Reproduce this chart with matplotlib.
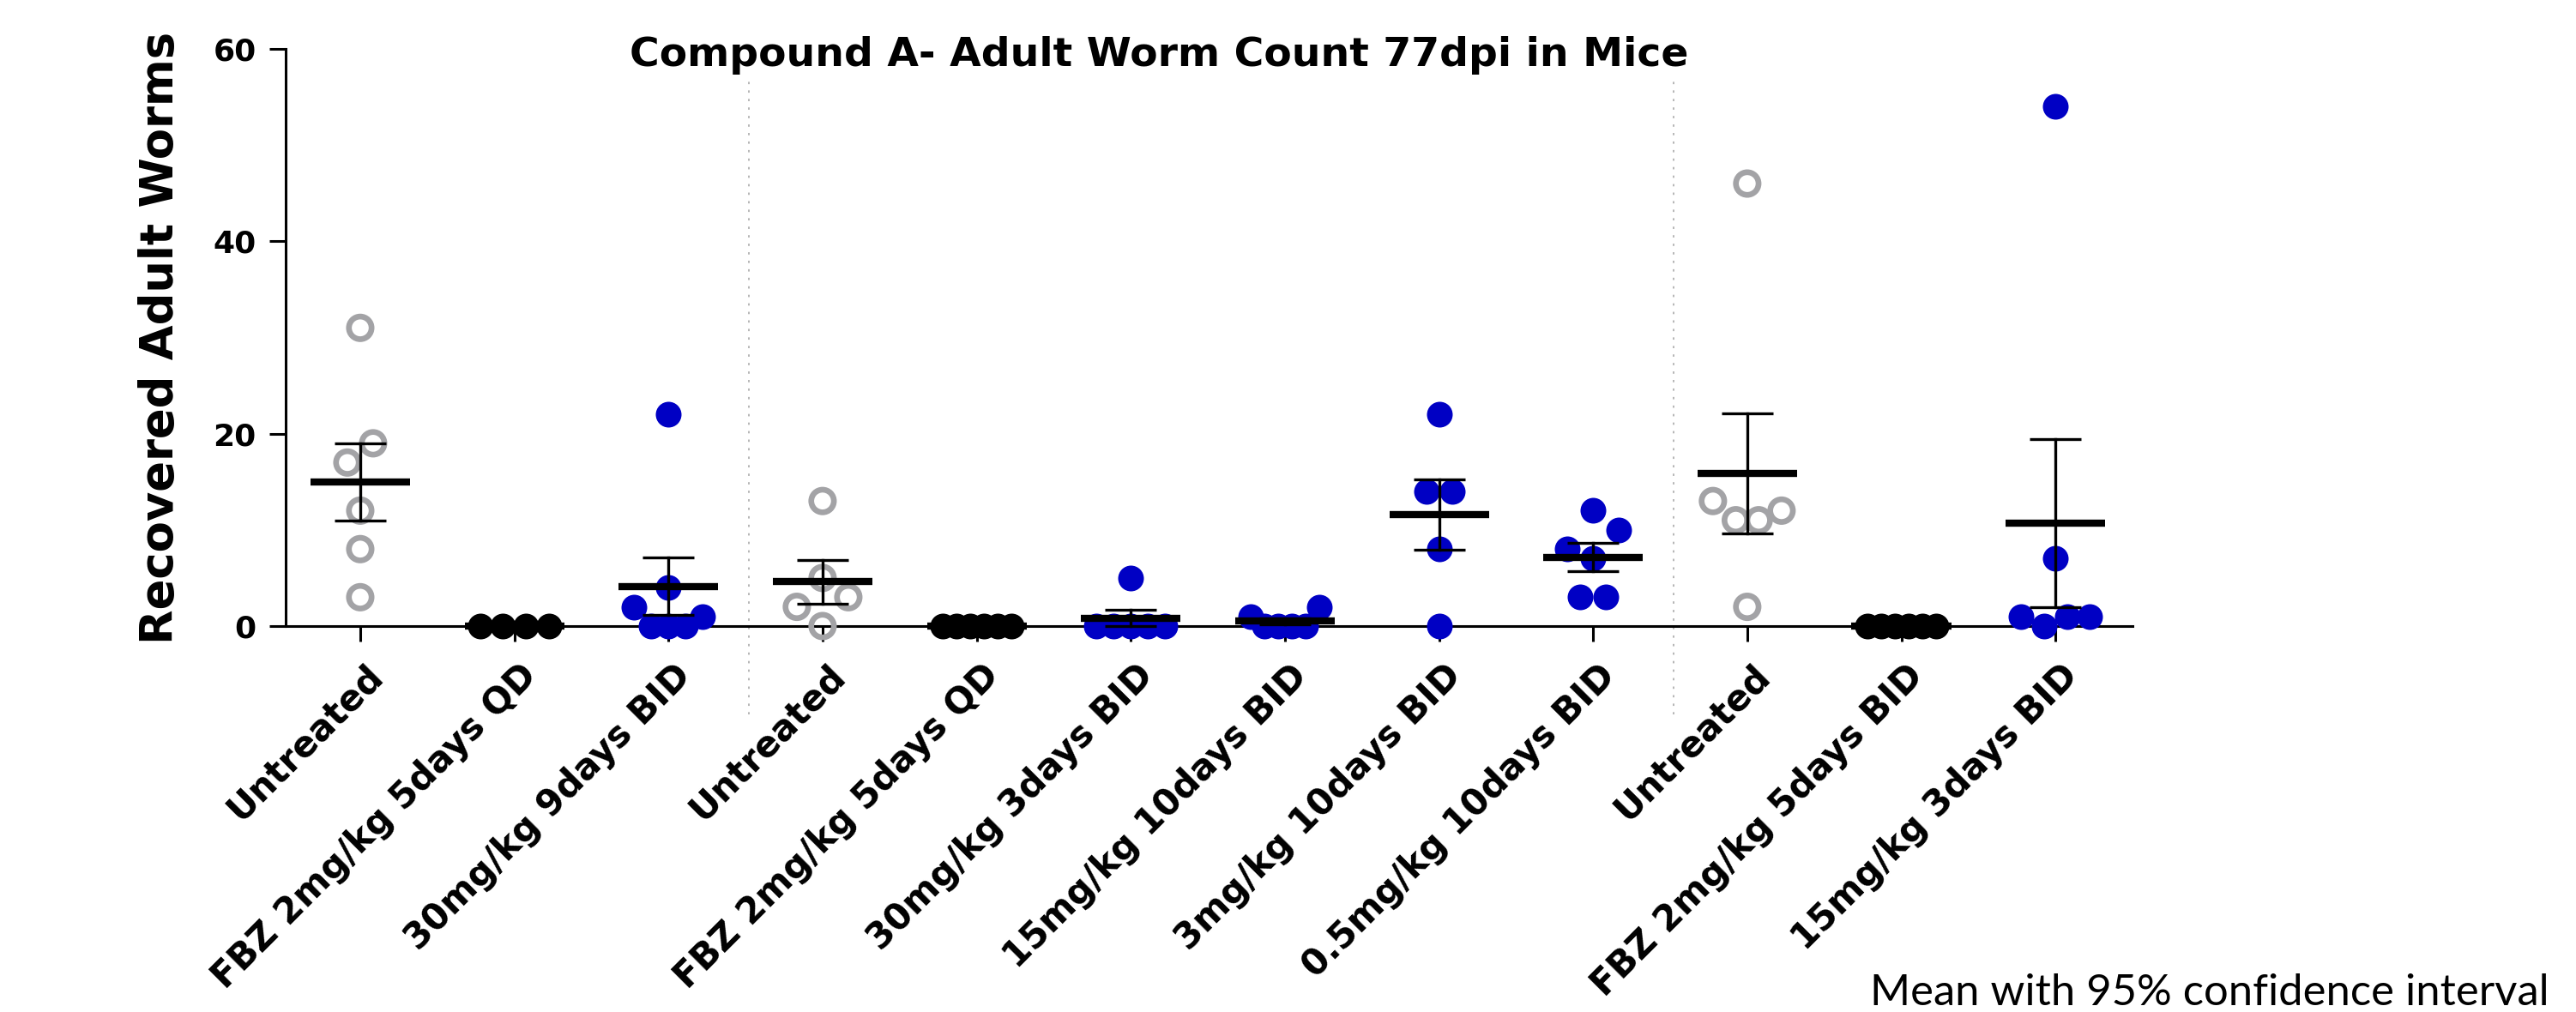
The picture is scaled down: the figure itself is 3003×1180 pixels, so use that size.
import numpy as np
import matplotlib
matplotlib.use("Agg")
import matplotlib.pyplot as plt
from matplotlib.transforms import ScaledTranslation

# --- Data (recovered adult worms per mouse) ---
labels = [
    "Untreated", "FBZ 2mg/kg 5days QD", "30mg/kg 9days BID",
    "Untreated", "FBZ 2mg/kg 5days QD", "30mg/kg 3days BID",
    "15mg/kg 10days BID", "3mg/kg 10days BID", "0.5mg/kg 10days BID",
    "Untreated", "FBZ 2mg/kg 5days BID", "15mg/kg 3days BID",
]

untreated_1 = [31, 19, 17, 12, 8, 3]
fbz_qd_1 = [0, 0, 0, 0]
cmpd_30_9d = [22, 4, 2, 1, 0, 0, 0]
untreated_2 = [13, 5, 3, 2, 0]
fbz_qd_2 = [0, 0, 0, 0, 0, 0]
cmpd_30_3d = [5, 0, 0, 0, 0, 0]
cmpd_15_10d = [2, 1, 0, 0, 0, 0]
cmpd_3_10d = [22, 14, 14, 8, 0]
cmpd_05_10d = [12, 10, 8, 7, 3, 3]
untreated_3 = [46, 13, 12, 11, 11, 2]
fbz_bid_3 = [0, 0, 0, 0, 0, 0]
cmpd_15_3d = [54, 7, 1, 1, 1, 0]

groups = [untreated_1, fbz_qd_1, cmpd_30_9d, untreated_2, fbz_qd_2, cmpd_30_3d,
          cmpd_15_10d, cmpd_3_10d, cmpd_05_10d, untreated_3, fbz_bid_3, cmpd_15_3d]

experiment_sizes = [3, 6, 3]   # groups per experiment (dotted separators between)
y_ticks = [0, 20, 40, 60]

GRAY = "#a3a3a6"
BLUE = "#0000c4"
BLACK = "#000000"

# --- Figure ---
fig = plt.figure(figsize=(30.03, 11.80), dpi=100)
ax = fig.add_axes([333 / 3003, 1 - 730 / 1180, (2486 - 333) / 3003, (730 - 57) / 1180])
ax.set_xlim(-0.484, 11.5)
ax.set_ylim(0, 60)

# pixel scale of data units (for the scatter layout)
p0 = ax.transData.transform((0, 0))
p1 = ax.transData.transform((1, 1))
sx, sy = p1[0] - p0[0], p1[1] - p0[1]


def row_offsets(vals, diam=30, max_span=80, row_h=36):
    """Prism-like scatter: bin close values into rows, spread each row centred."""
    vals = np.asarray(vals, float)
    order = np.argsort(vals, kind="stable")
    off = np.zeros(len(vals))
    i = 0
    while i < len(order):
        v0 = vals[order[i]]
        j = i
        while j < len(order) and (vals[order[j]] - v0) * sy < row_h:
            j += 1
        n = j - i
        step = diam if n < 2 else min(diam, max_span / (n - 1))
        slots = (np.arange(n) - (n - 1) / 2) * step
        slot_order = []
        level = 0
        for a in sorted(set(np.round(np.abs(slots), 6))):
            members = [k for k in range(n) if np.isclose(abs(slots[k]), a)]
            members.sort(key=lambda k: slots[k])
            if a > 0:
                level += 1
                if level % 2 == 0:
                    members = members[::-1]
            slot_order += members
        for rank, k in enumerate(slot_order):
            off[order[i + rank]] = slots[k] / sx
        i = j
    return off


for gi, (lab, vals) in enumerate(zip(labels, groups)):
    vals = np.asarray(vals, float)
    xs = gi + row_offsets(vals)
    if lab == "Untreated":
        ax.scatter(xs, vals, s=19 ** 2, facecolors="none", edgecolors=GRAY,
                   linewidths=4.8, zorder=3, clip_on=False)
    else:
        ax.scatter(xs, vals, s=21.6 ** 2, color=BLACK if lab.startswith("FBZ") else BLUE,
                   linewidths=0, zorder=3, clip_on=False)

    mean = vals.mean()
    sem = vals.std(ddof=1) / np.sqrt(len(vals))
    ax.plot([gi - 0.323, gi + 0.323], [mean, mean], color="black", lw=6,
            solid_capstyle="butt", zorder=5, clip_on=False)
    if sem > 0:
        ax.plot([gi, gi], [mean - sem, mean + sem], color="black", lw=2.4, zorder=4,
                clip_on=False)
        for yy in (mean - sem, mean + sem):
            ax.plot([gi - 0.167, gi + 0.167], [yy, yy], color="black", lw=2.4,
                    solid_capstyle="butt", zorder=4, clip_on=False)

# dotted separators between experiments
bounds = np.cumsum(experiment_sizes)[:-1] - 0.5
for b in bounds:
    ax.plot([b + 0.02, b + 0.02], [-9.2, 56.9], color="#b0b0b0", lw=1.3,
            dashes=(1.5, 4), clip_on=False, zorder=1)

# --- Axes styling ---
for side in ("top", "right"):
    ax.spines[side].set_visible(False)
for side in ("left", "bottom"):
    ax.spines[side].set_linewidth(2.2)

ax.set_yticks(y_ticks)
ax.set_yticklabels([str(t) for t in y_ticks], fontsize=26, fontweight="bold")
ax.tick_params(axis="y", direction="out", length=13.7, width=2.2, pad=11)

ax.set_xticks(range(len(labels)))
ax.set_xticklabels(labels, rotation=45, ha="right", va="center",
                   rotation_mode="anchor", fontsize=30, fontweight="bold")
ax.tick_params(axis="x", direction="out", length=13, width=2.2, pad=24)
shift = ScaledTranslation(14 / 72, 0, fig.dpi_scale_trans)
for t in ax.get_xticklabels():
    t.set_transform(t.get_transform() + shift)

fig.text(213 / 3003, 0.666, "Recovered Adult Worms", rotation=90, ha="right",
         va="center", fontsize=38, fontweight="bold")
fig.text(0.4499, 0.9347, "Compound A- Adult Worm Count 77dpi in Mice",
         ha="center", va="baseline", fontsize=34, fontweight="bold")
fig.text(0.9897, 0.0068, "Mean with 95% confidence interval", ha="right",
         va="baseline", fontsize=36.5, family="Lato")

fig.savefig("out.png", dpi=100)
